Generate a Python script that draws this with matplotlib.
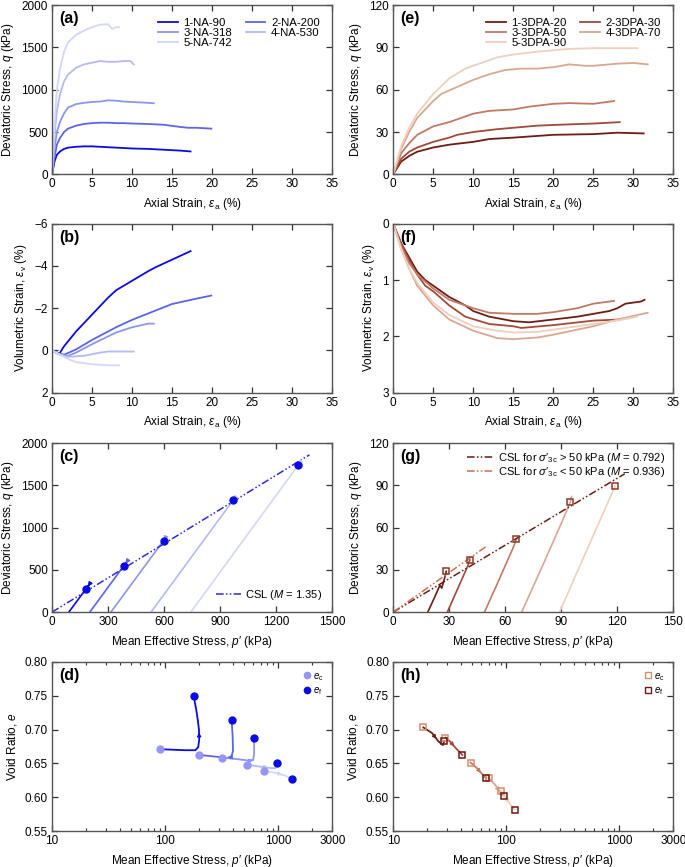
import numpy as np
import matplotlib
matplotlib.use('Agg')
import matplotlib.pyplot as plt
from matplotlib.lines import Line2D
from matplotlib.ticker import FixedLocator, FormatStrFormatter, NullFormatter, LogLocator

plt.rcParams['font.family'] = ['Liberation Sans', 'DejaVu Sans']
plt.rcParams['mathtext.fontset'] = 'custom'
plt.rcParams['mathtext.rm'] = 'Liberation Sans'
plt.rcParams['mathtext.it'] = 'Liberation Sans:italic'
plt.rcParams['mathtext.bf'] = 'Liberation Sans:bold'
plt.rcParams['font.size'] = 8.5

# ---- NA specimens (left column) ----
na_names = ['1-NA-90', '2-NA-200', '3-NA-318', '4-NA-530', '5-NA-742']
na_colors = ['#0a0ae6', '#5a64f0', '#8c94f5', '#b4baf9', '#d4d7fc']

na_ea = [
    [0, 0.3, 0.6, 1, 1.5, 2, 3, 4, 5, 6, 7, 8, 10, 12, 14, 15, 16, 17.3],
    [0, 0.3, 0.6, 1, 1.5, 2, 3, 4, 5, 6, 7, 8, 9, 10, 12, 14, 16, 17, 18, 19, 19.9],
    [0, 0.3, 0.6, 1, 1.5, 2, 3, 4, 5, 6, 7, 8, 9, 10, 11, 12, 12.7],
    [0, 0.3, 0.6, 1, 1.5, 2, 3, 4, 5, 6, 7, 8, 9, 9.8, 10.2],
    [0, 0.3, 0.6, 1, 1.5, 2, 3, 4, 5, 6, 7, 7.5, 8, 8.4],
]
na_q = [
    [0, 150, 230, 270, 300, 315, 325, 330, 330, 325, 320, 315, 305, 300, 290, 285, 280, 270],
    [0, 200, 350, 430, 500, 540, 575, 595, 605, 610, 610, 605, 605, 600, 595, 585, 560, 550, 550, 545, 540],
    [0, 300, 500, 620, 720, 790, 830, 845, 855, 860, 875, 870, 860, 855, 850, 845, 840],
    [0, 450, 750, 950, 1100, 1180, 1260, 1300, 1320, 1340, 1330, 1330, 1340, 1340, 1300],
    [0, 600, 1000, 1250, 1450, 1560, 1650, 1700, 1740, 1770, 1775, 1720, 1740, 1740],
]
na_ev_ea = [
    [0, 0.7, 1, 1.5, 3, 5, 7, 8, 10, 12, 13, 15, 17.3],
    [0, 1, 1.5, 3, 5, 8, 10, 13, 15, 18, 19.9],
    [0, 1, 2, 3, 5, 8, 10, 12, 12.7],
    [0, 1, 2, 4, 6, 7, 10.2],
    [0, 1, 2, 3, 5, 7, 8.4],
]
na_ev = [
    [0, 0.15, 0.1, -0.2, -0.9, -1.7, -2.5, -2.85, -3.3, -3.75, -3.95, -4.3, -4.7],
    [0, 0.15, 0.2, -0.05, -0.5, -1.1, -1.45, -1.9, -2.2, -2.45, -2.6],
    [0, 0.2, 0.25, 0.1, -0.3, -0.85, -1.1, -1.27, -1.27],
    [0, 0.2, 0.3, 0.25, 0.1, 0.05, 0.05],
    [0, 0.2, 0.4, 0.55, 0.65, 0.7, 0.7],
]
# stress paths p'-q
na_path_p = [[90, 200, 183], [202, 405, 385], [315, 605, 600], [530, 975, 967], [743, 1330, 1317]]
na_path_q = [[0, 330, 275], [0, 610, 545], [0, 870, 843], [0, 1340, 1322], [0, 1775, 1745]]
na_crit_p = [181, 385, 601, 967, 1317]
na_crit_q = [274, 545, 843, 1322, 1745]
na_M = 1.35
na_csl_pmax = 1378
# e - log p'
na_ec_p = [90, 200, 319, 533, 745]
na_ec_e = [0.671, 0.6625, 0.6586, 0.648, 0.639]
na_ef_p = [179, 386, 611, 973, 1334]
na_ef_e = [0.7496, 0.7149, 0.6875, 0.6508, 0.6268]
na_e_path_p = [
    [90, 150, 185, 196, 200, 199, 194, 188, 183, 179],
    [200, 280, 350, 385, 398, 395, 390, 386],
    [319, 450, 560, 600, 612, 611],
    [533, 700, 860, 940, 973],
    [745, 950, 1150, 1334],
]
na_e_path_e = [
    [0.671, 0.6695, 0.6695, 0.674, 0.685, 0.70, 0.715, 0.73, 0.74, 0.7496],
    [0.6625, 0.660, 0.658, 0.660, 0.668, 0.69, 0.705, 0.7149],
    [0.6586, 0.656, 0.654, 0.655, 0.665, 0.6875],
    [0.648, 0.645, 0.643, 0.643, 0.6508],
    [0.639, 0.636, 0.632, 0.6268],
]

# ---- 3DPA specimens (right column) ----
pa_names = ['1-3DPA-20', '2-3DPA-30', '3-3DPA-50', '4-3DPA-70', '5-3DPA-90']
pa_colors = ['#701c14', '#a4493a', '#c27a62', '#dca690', '#f1cfbd']

pa_ea = [
    [0, 1, 2, 3, 5, 7, 10, 12, 15, 20, 25, 28, 31.3],
    [0, 1, 2, 3, 5, 7, 8, 10, 13, 15, 18, 20, 25, 28.3],
    [0, 1, 2, 3, 5, 7, 10, 12, 15, 17, 20, 22, 25, 27.6],
    [0, 1, 2, 3, 5, 6, 8, 10, 12, 14, 16, 18, 20, 22, 24, 25, 28, 30, 31.8],
    [0, 1, 2, 3, 5, 7, 9, 11, 13, 15, 18, 20, 22, 25, 28, 30.5],
]
pa_q = [
    [0, 9, 13, 16, 19, 21, 23, 25, 26, 28, 28.5, 29.5, 29],
    [0, 11, 16, 19, 23, 26, 28, 30, 32, 33, 34.5, 35, 36, 37],
    [0, 15, 22, 28, 34, 37, 43, 45, 46, 48, 50, 50.5, 50, 52],
    [0, 18, 30, 40, 52, 57, 62, 67, 71, 74, 75, 75, 76, 78, 77, 77, 78.5, 79, 78],
    [0, 20, 33, 43, 57, 68, 75, 79, 83, 85, 87, 88, 89, 89.5, 89.5, 89.5],
]
pa_ev_ea = [
    [0, 1, 2, 3, 4, 5, 7, 9, 10, 12, 15, 17, 20, 23, 25, 27, 28, 29, 30, 31, 31.4],
    [0, 1, 2, 3, 4, 5, 7, 9, 12, 15, 16, 20, 25, 28.3],
    [0, 1, 2, 3, 5, 7, 10, 12, 15, 18, 20, 23, 25, 27.6],
    [0, 1, 2, 3, 5, 7, 10, 13, 15, 18, 20, 25, 28, 31.8],
    [0, 1, 2, 3, 5, 7, 10, 13, 15, 18, 20, 25, 28, 30.5],
]
pa_ev = [
    [0, 0.35, 0.6, 0.85, 1.0, 1.1, 1.3, 1.45, 1.55, 1.65, 1.73, 1.75, 1.7, 1.65, 1.6, 1.55, 1.5, 1.42, 1.4, 1.38, 1.35],
    [0, 0.35, 0.65, 0.9, 1.1, 1.2, 1.45, 1.65, 1.78, 1.82, 1.85, 1.8, 1.72, 1.7],
    [0, 0.4, 0.7, 0.9, 1.15, 1.35, 1.5, 1.58, 1.6, 1.6, 1.57, 1.5, 1.42, 1.37],
    [0, 0.45, 0.8, 1.1, 1.45, 1.7, 1.9, 2.03, 2.05, 2.02, 1.97, 1.82, 1.7, 1.58],
    [0, 0.45, 0.8, 1.05, 1.4, 1.62, 1.82, 1.9, 1.93, 1.92, 1.88, 1.78, 1.72, 1.65],
]
pa_path_p = [[18.5, 22, 25, 26, 27.5, 28.4], [29, 33, 37, 40, 41], [48.9, 55, 60, 64, 66],
             [68.8, 80, 90, 94.8, 95.5], [89.1, 100, 110, 118.9]]
pa_path_q = [[0, 10, 19, 17, 24, 29], [0, 12, 24, 33, 37], [0, 18, 33, 45, 52],
             [0, 33, 63, 78, 82], [0, 33, 63, 89.6]]
pa_crit_p = [28.4, 41, 65.9, 94.8, 118.9]
pa_crit_q = [28.9, 36.7, 52, 78.1, 89.6]
pa_M_hi, pa_M_lo = 0.792, 0.936
pa_csl_hi_pmax, pa_csl_lo_pmax = 124, 50.3
pa_ec_p = [18.5, 29, 48.3, 69.7, 89.9]
pa_ec_e = [0.7031, 0.688, 0.6513, 0.6288, 0.6097]
pa_ef_p = [28.2, 40.9, 66.4, 95.5, 120]
pa_ef_e = [0.683, 0.6625, 0.6278, 0.6019, 0.5818]
pa_e_path_p = [[18.5, 22, 25, 27.5, 28.2], [29, 32, 36, 40.9], [48.3, 55, 62, 66.4],
               [69.7, 80, 90, 95.5], [89.9, 100, 110, 120]]
pa_e_path_e = [[0.7031, 0.695, 0.683, 0.677, 0.683], [0.688, 0.682, 0.672, 0.6625],
               [0.6513, 0.643, 0.633, 0.6278], [0.6288, 0.618, 0.605, 0.6019],
               [0.6097, 0.598, 0.588, 0.5818]]

fig = plt.figure(figsize=(6.85, 8.67), dpi=100)
lefts = [0.076, 0.574]
bottoms = [0.799, 0.547, 0.294, 0.0415]
w, h = 0.409, 0.195
axes = {}
for col, letters in enumerate(['abcd', 'efgh']):
    for row, lt in enumerate(letters):
        axes[lt] = fig.add_axes([lefts[col], bottoms[row], w, h])

for lt, ax in axes.items():
    for s in ax.spines.values():
        s.set_color('#555555')
        s.set_linewidth(1.0)
    ax.tick_params(direction='in', top=True, right=True, length=4, width=0.9, color='#333333',
                   labelsize=8.5, pad=3)
    ax.tick_params(which='minor', direction='in', top=True, right=True, length=2.5, width=0.8,
                   color='#333333')
    ax.text(0.025, 0.965, '(%s)' % lt, transform=ax.transAxes, fontsize=11.5, fontweight='bold',
            va='top', ha='left')

lab_q = 'Deviatoric Stress, $q$ (kPa)'
lab_ea = r'Axial Strain, $\varepsilon_{\mathrm{a}}$ (%)'
lab_ev = r'Volumetric Strain, $\varepsilon_{\mathrm{v}}$ (%)'
lab_p = 'Mean Effective Stress, $p$\u2032 (kPa)'
lab_e = 'Void Ratio, $e$'

def leg5(ax, names):
    order = [0, 2, 4, 1, 3]
    hs = ax.get_lines()
    ax.legend([hs[i] for i in order], [names[i] for i in order], ncol=2, loc='upper right',
              frameon=False, fontsize=8.2, handlelength=1.7, columnspacing=1.2, labelspacing=0.0,
              borderaxespad=0.9, handletextpad=0.5, borderpad=0.2)

# (a)
ax = axes['a']
for i in range(5):
    ax.plot(na_ea[i], na_q[i], color=na_colors[i], lw=1.3)
ax.set_xlim(0, 35); ax.set_ylim(0, 2000)
ax.set_xticks(range(0, 36, 5)); ax.set_yticks(range(0, 2001, 500))
ax.set_xlabel(lab_ea); ax.set_ylabel(lab_q)
leg5(ax, na_names)

# (e)
ax = axes['e']
for i in range(5):
    ax.plot(pa_ea[i], pa_q[i], color=pa_colors[i], lw=1.3)
ax.set_xlim(0, 35); ax.set_ylim(0, 120)
ax.set_xticks(range(0, 36, 5)); ax.set_yticks(range(0, 121, 30))
ax.set_xlabel(lab_ea); ax.set_ylabel(lab_q)
leg5(ax, pa_names)

# (b)
ax = axes['b']
for i in range(5):
    ax.plot(na_ev_ea[i], na_ev[i], color=na_colors[i], lw=1.3)
ax.set_xlim(0, 35); ax.set_ylim(2, -6)
ax.set_xticks(range(0, 36, 5)); ax.set_yticks(range(-6, 3, 2))
ax.set_xlabel(lab_ea); ax.set_ylabel(lab_ev)

# (f)
ax = axes['f']
for i in range(5):
    ax.plot(pa_ev_ea[i], pa_ev[i], color=pa_colors[i], lw=1.3)
ax.set_xlim(0, 35); ax.set_ylim(3, 0)
ax.set_xticks(range(0, 36, 5)); ax.set_yticks(range(0, 4))
ax.set_xlabel(lab_ea); ax.set_ylabel(lab_ev)

dashdotdot = (0, (5, 1.5, 1, 1.5, 1, 1.5))

# (c)
ax = axes['c']
for i in range(5):
    ax.plot(na_path_p[i], na_path_q[i], color=na_colors[i], lw=1.2)
    ax.annotate('', xy=(na_path_p[i][2], na_path_q[i][2]), xytext=(na_path_p[i][1], na_path_q[i][1]),
                arrowprops=dict(arrowstyle='-|>', color=na_colors[i], lw=1.0, mutation_scale=6))
ax.plot(na_crit_p, na_crit_q, 'o', color='#0a0ae6', ms=5, zorder=5)
pp = np.array([0, na_csl_pmax])
ax.plot(pp, na_M * pp, color='#2a2ae8', lw=1.1, ls=dashdotdot, label='CSL ($M$ = %.2f)' % na_M)
ax.set_xlim(0, 1500); ax.set_ylim(0, 2000)
ax.set_xticks(range(0, 1501, 300)); ax.set_yticks(range(0, 2001, 500))
ax.set_xlabel(lab_p); ax.set_ylabel(lab_q)
ax.legend(loc='lower right', frameon=False, fontsize=8, handlelength=2.2, borderaxespad=0.5,
          handletextpad=0.4)

# (g)
ax = axes['g']
for i in range(5):
    ax.plot(pa_path_p[i], pa_path_q[i], color=pa_colors[i], lw=1.2)
ax.plot(pa_crit_p, pa_crit_q, 's', mfc='none', mec='#8a3a2a', mew=1.1, ms=5, zorder=5)
pp = np.array([0, pa_csl_hi_pmax])
ax.plot(pp, pa_M_hi * pp, color='#6e1a12', lw=1.1, ls=dashdotdot,
        label='CSL for $\\sigma$\u2032$_{\\mathrm{3c}}$ > 50 kPa ($M$ = %.3f)' % pa_M_hi)
pp = np.array([0, pa_csl_lo_pmax])
ax.plot(pp, pa_M_lo * pp, color='#c8704e', lw=1.1, ls=dashdotdot,
        label='CSL for $\\sigma$\u2032$_{\\mathrm{3c}}$ < 50 kPa ($M$ = %.3f)' % pa_M_lo)
ax.set_xlim(0, 150); ax.set_ylim(0, 120)
ax.set_xticks(range(0, 151, 30)); ax.set_yticks(range(0, 121, 30))
ax.set_xlabel(lab_p); ax.set_ylabel(lab_q)
ax.legend(loc='upper right', frameon=False, fontsize=8, handlelength=2.4, labelspacing=0.0,
          borderaxespad=0.5, handletextpad=0.4, borderpad=0.2)

def logaxis(ax):
    ax.set_xscale('log')
    ax.set_xlim(10, 3000); ax.set_ylim(0.55, 0.80)
    ax.xaxis.set_major_locator(FixedLocator([10, 100, 1000, 3000]))
    ax.xaxis.set_major_formatter(FormatStrFormatter('%d'))
    ax.xaxis.set_minor_locator(LogLocator(base=10, subs=np.arange(2, 10)))
    ax.xaxis.set_minor_formatter(NullFormatter())
    ax.set_yticks(np.arange(0.55, 0.801, 0.05))
    ax.yaxis.set_major_formatter(FormatStrFormatter('%.2f'))
    ax.set_xlabel(lab_p); ax.set_ylabel(lab_e)

# (d)
ax = axes['d']
for i in range(5):
    ax.plot(na_e_path_p[i], na_e_path_e[i], color=na_colors[i], lw=1.3)
    k = len(na_e_path_p[i]) // 2
    ax.annotate('', xy=(na_e_path_p[i][k], na_e_path_e[i][k]),
                xytext=(na_e_path_p[i][k - 1], na_e_path_e[i][k - 1]),
                arrowprops=dict(arrowstyle='-|>', color=na_colors[i], lw=0.8, mutation_scale=6))
ax.plot(na_ec_p, na_ec_e, 'o', color='#9696f8', ms=5, zorder=5)
ax.plot(na_ef_p, na_ef_e, 'o', color='#0a0ae6', ms=5, zorder=6)
logaxis(ax)
ax.legend([Line2D([], [], ls='none', marker='o', color='#9696f8', ms=4.5),
           Line2D([], [], ls='none', marker='o', color='#0a0ae6', ms=4.5)],
          [r'$e_{\mathrm{c}}$', r'$e_{\mathrm{f}}$'], loc='upper right', frameon=False,
          fontsize=7, handlelength=0.8, handletextpad=0.2, labelspacing=0.3, borderaxespad=0.5)

# (h)
ax = axes['h']
for i in range(5):
    ax.plot(pa_e_path_p[i], pa_e_path_e[i], color=pa_colors[i], lw=1.3)
    k = len(pa_e_path_p[i]) // 2
    ax.annotate('', xy=(pa_e_path_p[i][k], pa_e_path_e[i][k]),
                xytext=(pa_e_path_p[i][k - 1], pa_e_path_e[i][k - 1]),
                arrowprops=dict(arrowstyle='-|>', color=pa_colors[i], lw=0.8, mutation_scale=6))
ax.plot(pa_ec_p, pa_ec_e, 's', mfc='none', mec='#d88c6e', mew=1.1, ms=5, zorder=5)
ax.plot(pa_ef_p, pa_ef_e, 's', mfc='none', mec='#6e1a12', mew=1.1, ms=5, zorder=6)
logaxis(ax)
ax.legend([Line2D([], [], ls='none', marker='s', mfc='none', mec='#d88c6e', mew=1.0, ms=4.5),
           Line2D([], [], ls='none', marker='s', mfc='none', mec='#6e1a12', mew=1.0, ms=4.5)],
          [r'$e_{\mathrm{c}}$', r'$e_{\mathrm{f}}$'], loc='upper right', frameon=False,
          fontsize=7, handlelength=0.8, handletextpad=0.2, labelspacing=0.3, borderaxespad=0.5)

fig.savefig('out.png', dpi=100)
